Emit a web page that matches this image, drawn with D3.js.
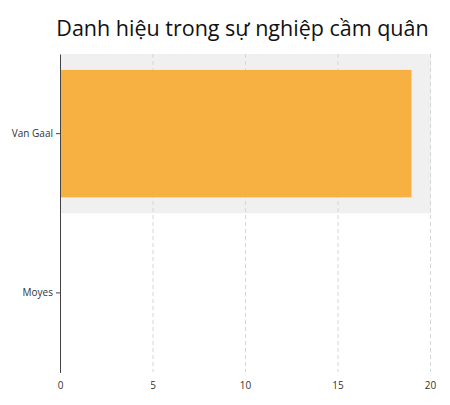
<!DOCTYPE html>
<html lang="vi">
<head>
  <meta charset="UTF-8">
  <title>Danh hiệu trong sự nghiệp cầm quân</title>
  <style>
    body { margin: 0; background: #fff; }
    svg { display: block; font-family: "Open Sans", sans-serif; }
    .grid line { stroke: #d6d6d6; stroke-dasharray: 4,3; }
    .grid .domain { display: none; }
    .axis text { font-family: "Open Sans", sans-serif; font-size: 10px; fill: #333; }
  </style>
</head>
<body>
  <script src="https://d3js.org/d3.v7.min.js"></script>
  <script>
    // dữ liệu
    const coaches = ["Van Gaal", "Moyes"];
    const titles = [19, 0];
    const xTicks = [0, 5, 10, 15, 20];
    const highlighted = "Van Gaal";

    const width = 450, height = 405;
    const margin = {top: 54, right: 20, bottom: 33, left: 60};

    const svg = d3.select("body").append("svg")
      .attr("width", width)
      .attr("height", height);

    svg.append("text")
      .attr("x", 242.5)
      .attr("y", 36)
      .attr("text-anchor", "middle")
      .attr("font-size", "21.5px")
      .attr("fill", "#111")
      .text("Danh hiệu trong sự nghiệp cầm quân");

    const x = d3.scaleLinear()
      .domain([0, 20])
      .range([margin.left, width - margin.right]);

    const y = d3.scaleBand()
      .domain(coaches)
      .range([margin.top, height - margin.bottom + 0.5])
      .paddingInner(0.2)
      .paddingOuter(0.1);

    // nền xám cho dòng đang chọn
    svg.append("rect")
      .attr("x", x(0))
      .attr("y", y(highlighted) - y.step() * y.paddingOuter())
      .attr("width", x(20) - x(0) + 1)
      .attr("height", y.step())
      .attr("fill", "#f0f0f0");

    // lưới dọc nét đứt
    svg.append("g")
      .attr("class", "grid")
      .attr("transform", `translate(0,${margin.top})`)
      .call(d3.axisBottom(x).tickValues(xTicks.slice(1))
        .tickSize(height - margin.bottom - margin.top)
        .tickFormat(""));

    // thanh
    svg.append("g")
      .selectAll("rect")
      .data(coaches)
      .enter().append("rect")
      .attr("x", x(0))
      .attr("y", d => y(d))
      .attr("width", (d, i) => x(titles[i]) - x(0))
      .attr("height", y.bandwidth())
      .attr("fill", "#f7b143");

    // trục x (chỉ nhãn)
    const xAxis = svg.append("g")
      .attr("class", "axis")
      .attr("transform", `translate(0,${height - margin.bottom - 2})`)
      .call(d3.axisBottom(x).tickValues(xTicks).tickSize(0).tickPadding(12));
    xAxis.select(".domain").remove();

    // trục y
    const yAxis = svg.append("g")
      .attr("class", "axis")
      .attr("transform", `translate(${margin.left},0)`)
      .call(d3.axisLeft(y).tickSize(4).tickPadding(3).tickSizeOuter(0));
    yAxis.select(".domain").attr("stroke", "#444");
    yAxis.selectAll(".tick line").attr("stroke", "#444");
  </script>
</body>
</html>
